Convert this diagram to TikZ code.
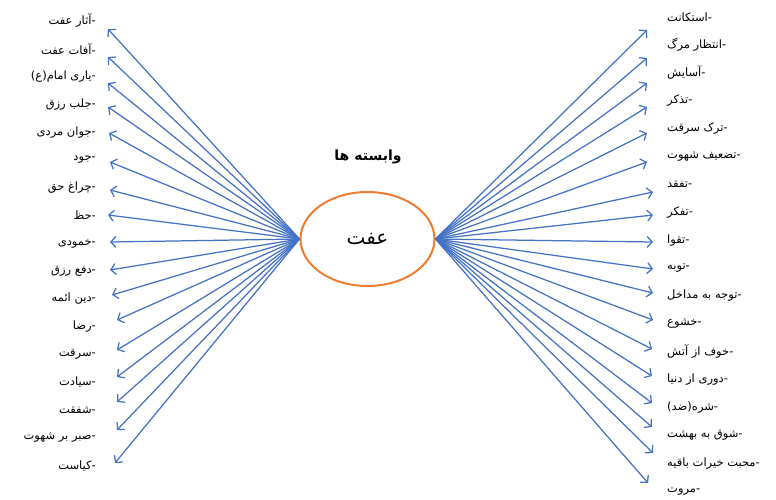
\documentclass[tikz,border=0pt]{standalone}
\usepackage{fontspec}
\usetikzlibrary{arrows.meta,shapes.geometric}
\TeXXeTstate=1
\newfontfamily\arabicfont[Script=Arabic]{DejaVu Sans}
\definecolor{linkblue}{HTML}{4472C4}
\definecolor{ringorange}{HTML}{ED7D31}
\tikzset{
  lab/.style={font=\arabicfont\fontsize{11.5}{13}\selectfont, inner sep=0pt, text=black},
  leftlab/.style={lab, anchor=east},
  rightlab/.style={lab, anchor=west},
  link/.style={draw=linkblue, line width=1.25pt, -{Straight Barb[length=5pt,width=11pt]}},
  ring/.style={ellipse, draw=ringorange, line width=2pt, minimum width=134pt, minimum height=94pt, inner sep=0pt}
}
\begin{document}
\begin{tikzpicture}[x=1pt,y=-1pt]
\useasboundingbox (0,0) rectangle (776,499);
\node[ring] (E) at (367.5,239) {\arabicfont\fontsize{20}{22}\selectfont\beginR عفت\endR};
\node[font=\arabicfont\bfseries\fontsize{14}{16}\selectfont] (T) at (368,157) {\beginR وابسته ها\endR};
\foreach \t [count=\i] in {{\beginR آثار عفت\endR},{\beginR آفات عفت\endR},{(ع)\beginR یاری امام\endR},{\beginR جلب رزق\endR},{\beginR جوان مردی\endR},{\beginR جود\endR},{\beginR چراغ حق\endR},{\beginR حظ\endR},{\beginR خمودی\endR},{\beginR دفع رزق\endR},{\beginR دین ائمه\endR},{\beginR رضا\endR},{\beginR سرقت\endR},{\beginR سیادت\endR},{\beginR شفقت\endR},{\beginR صبر بر شهوت\endR},{\beginR کیاست\endR}}
  \node[leftlab] (L\i) at (96,{21+27.8*(\i-1)}) {\t-};
\foreach \t [count=\i] in {{\beginR استکانت\endR},{\beginR انتظار مرگ\endR},{\beginR آسایش\endR},{\beginR تذکر\endR},{\beginR ترک سرقت\endR},{\beginR تضعیف شهوت\endR},{\beginR تفقد\endR},{\beginR تفکر\endR},{\beginR تقوا\endR},{\beginR توبه\endR},{\beginR توجه به مداخل\endR},{\beginR خشوع\endR},{\beginR خوف از آتش\endR},{\beginR دوری از دنیا\endR},{(ضد)\beginR شره\endR},{\beginR شوق به بهشت\endR},{\beginR محبت خیرات باقیه\endR},{\beginR مروت\endR}}
  \node[rightlab] (R\i) at (667,{17+27.9*(\i-1)}) {\t-};
\foreach \x/\y [count=\i] in {108/29,108/57,108/83,108/107,109/133,110/162,110/190,108/215,110/242,110/270,112/295,117/320,117/350,117/377,117/402,117/430,115/463}{
  \coordinate (TL\i) at (\x,\y);
  \draw[link] (E.west) -- (TL\i);
}
\foreach \x/\y [count=\i] in {647/30,647/58,647/83,647/107,647/133,647/162,653/192,653/215,653/242,653/269,653/293,653/320,652/349,652/376,652/403,652/427,653/453,648/483}{
  \coordinate (TR\i) at (\x,\y);
  \draw[link] (E.east) -- (TR\i);
}
\end{tikzpicture}
\end{document}
